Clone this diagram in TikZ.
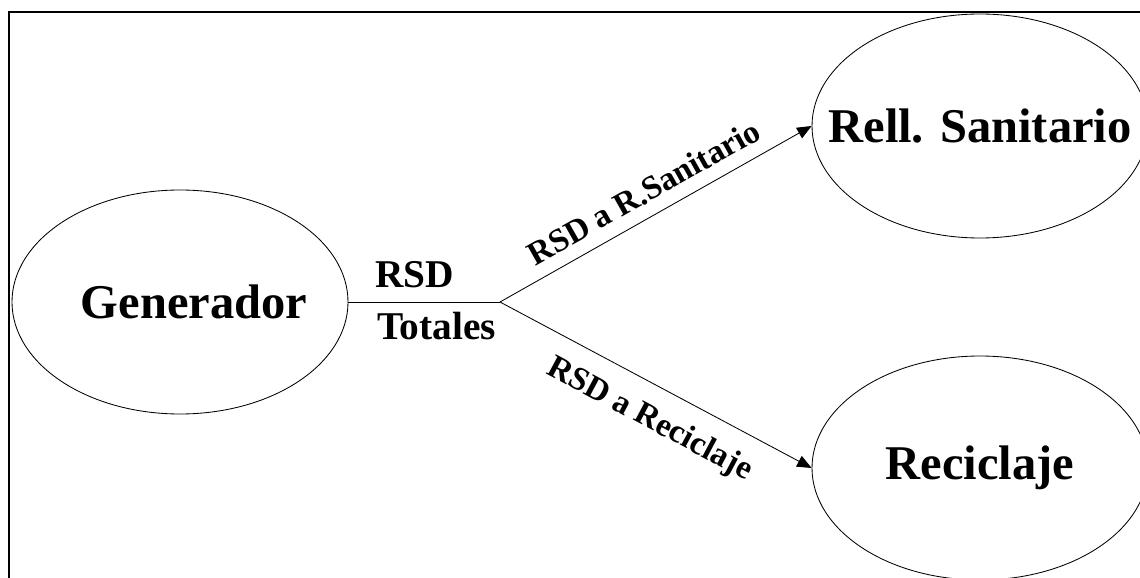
\documentclass[tikz,border=0pt]{standalone}
\usepackage{fontspec}
\setmainfont{Liberation Serif}
\usepackage{tikz}
\usetikzlibrary{arrows.meta,positioning,shapes.geometric}
\tikzset{
  rsnode/.style={draw, ellipse, line width=0.6pt, minimum width=8.4cm, minimum height=5.6cm,
    inner xsep=-1cm, inner ysep=0pt, font=\fontsize{34.5}{40}\selectfont\bfseries},
  rsline/.style={line width=0.6pt},
  rsarrow/.style={-{Triangle[length=3.6mm, width=3mm]}, line width=0.6pt},
  rslabel/.style={font=\fontsize{23.5}{28}\selectfont\bfseries, sloped, midway},
  rstotal/.style={font=\fontsize{28}{34}\selectfont\bfseries, anchor=base west, inner sep=0pt},
}

\begin{document}
\begin{tikzpicture}
  \useasboundingbox (0,0) rectangle (28.5,14.425);
  \clip (0,0) rectangle (28.5,14.425);
  \draw[line width=1.4pt] (0.225,14.125) rectangle (29,-0.5);

  \node[rsnode] (gen) at (4.5,6.875) {\hspace{0.7cm}Generador};
  \node[rsnode] (rell) at (24.5,11.275) {Rell. Sanitario};
  \node[rsnode] (recic) at (24.5,2.725) {Reciclaje};

  \coordinate (br) at (12.5,6.875);
  \node[rstotal] (rsd) at (9.375,7.25) {RSD};
  \node[rstotal] (tot) at (9.42,5.95) {Totales};

  \draw[rsline] (gen.east) -- (br);
  \draw[rsarrow] (br) -- node[rslabel, above, inner sep=9pt] {RSD a R.Sanitario} (rell.west);
  \draw[rsarrow] (br) -- node[rslabel, below, inner sep=13pt, pos=0.53] {RSD a Reciclaje} (recic.west);
\end{tikzpicture}
\end{document}
